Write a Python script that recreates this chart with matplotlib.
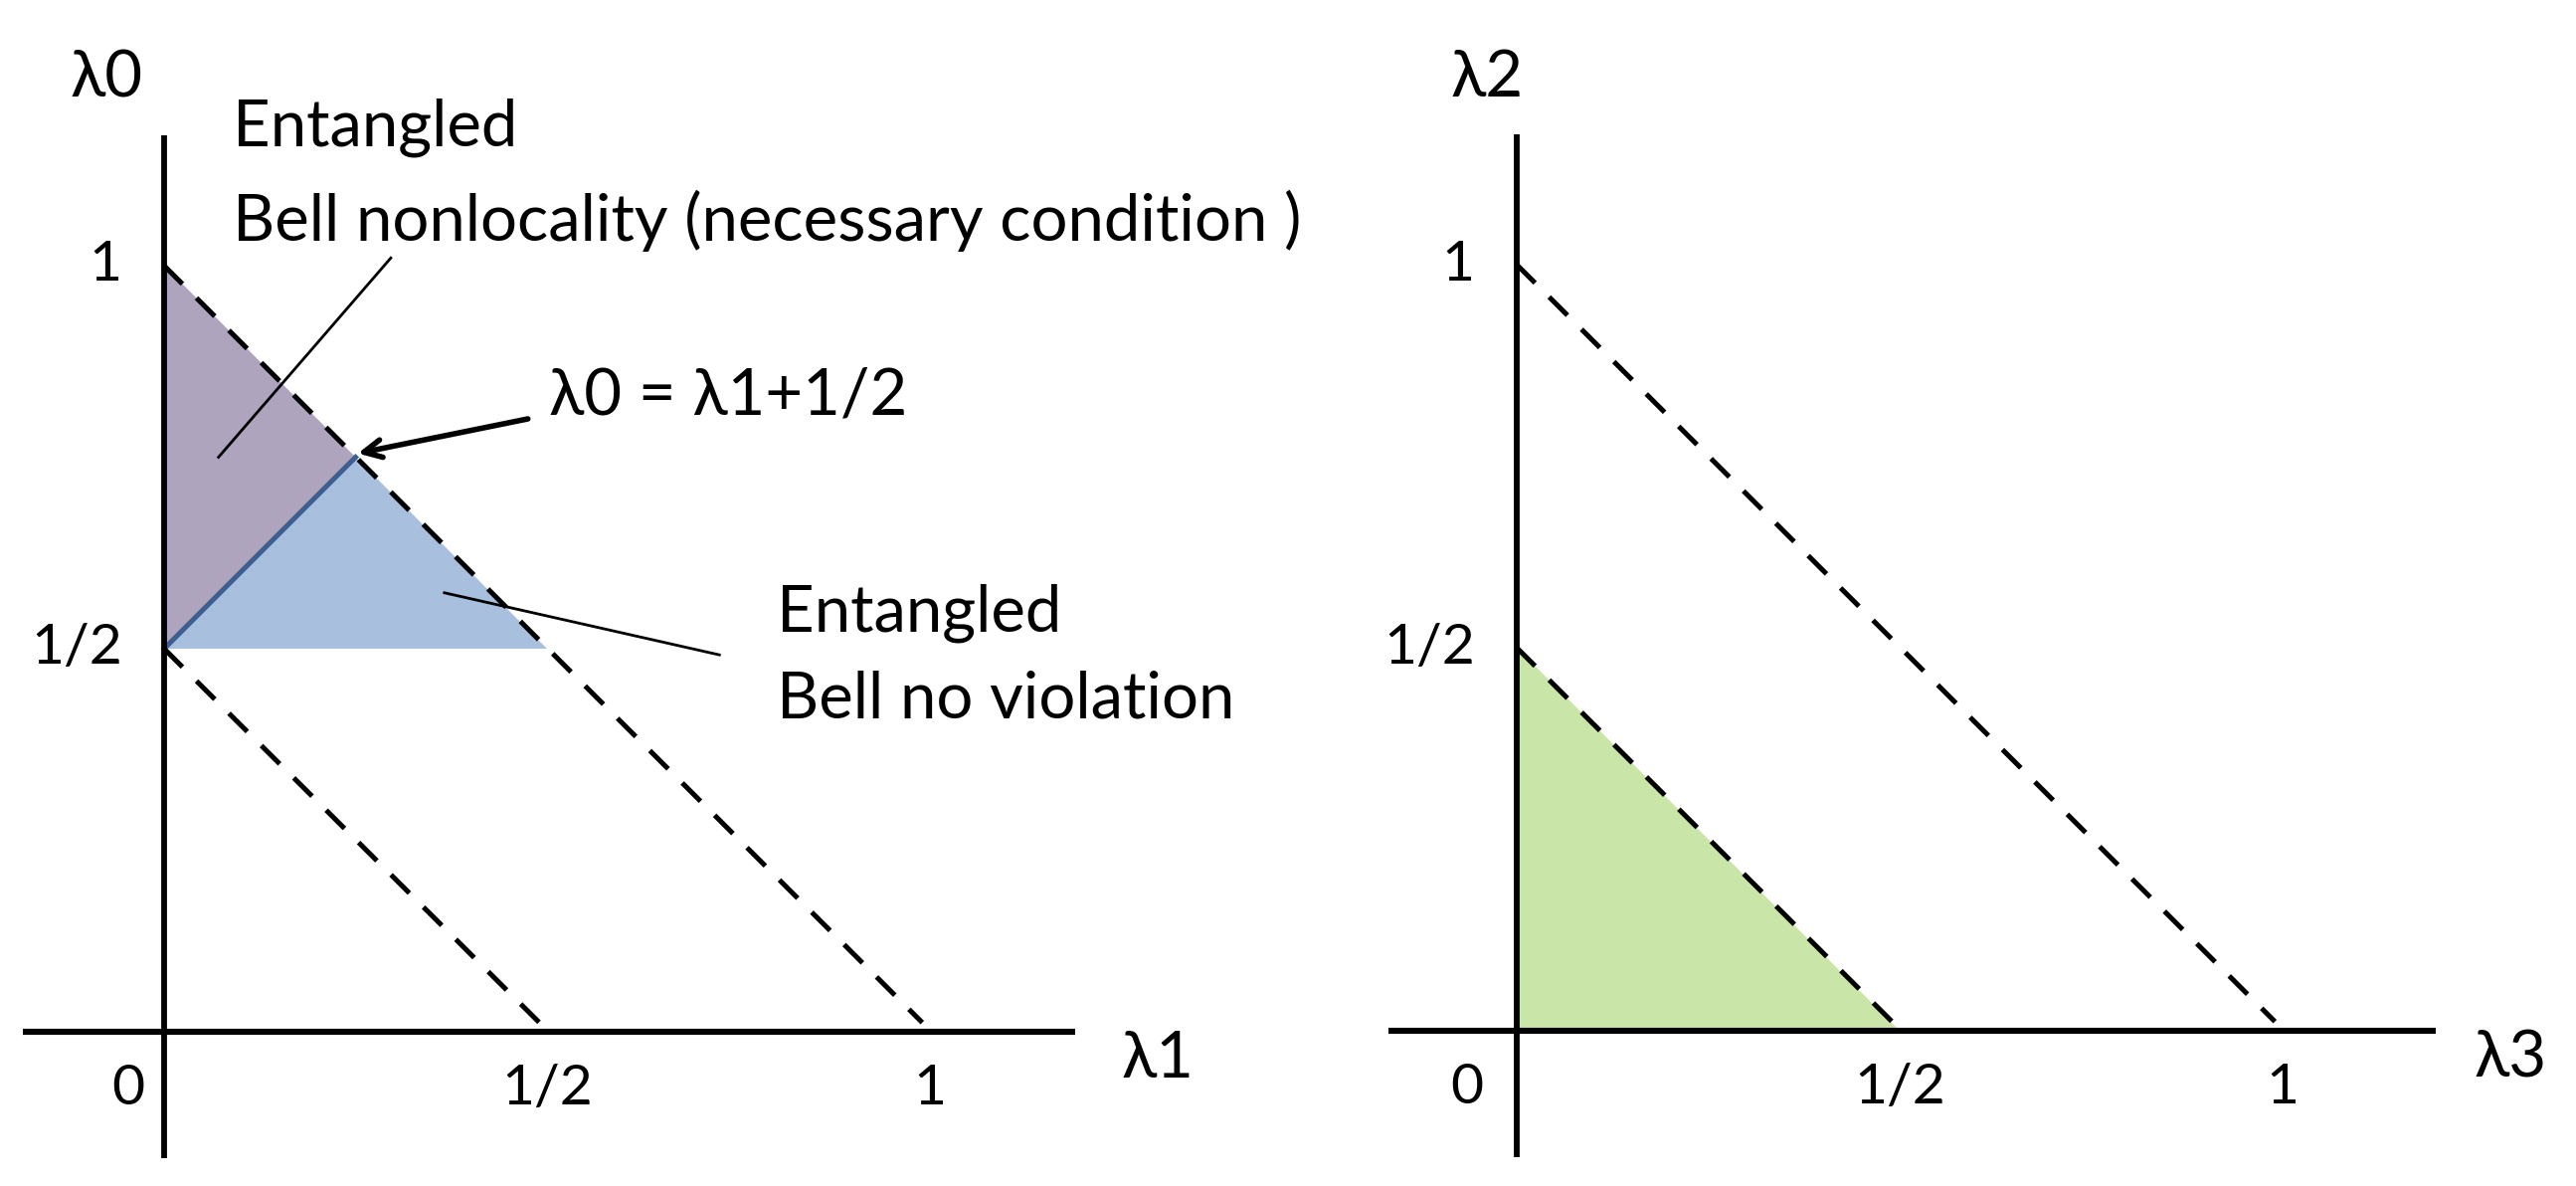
import matplotlib as mpl
mpl.use("Agg")
import matplotlib.pyplot as plt
from matplotlib.patches import Polygon

plt.rcParams['font.family'] = ['Lato', 'DejaVu Sans']

# --- data ---
tick_vals = [0.5, 1.0]
tick_text = ["1/2", "1"]

# dashed boundary lines (x0, y0) -> (x1, y1)
dash_lines = [((0.0, 1.0), (1.0, 0.0)), ((0.0, 0.5), (0.5, 0.0))]

# left panel regions
purple_tri = [(0.0, 1.0), (0.0, 0.5), (0.25, 0.75)]
blue_tri = [(0.0, 0.5), (0.25, 0.75), (0.5, 0.5)]
bound_line_x = [0.0, 0.25]
bound_line_y = [0.5, 0.75]

# right panel region
green_tri = [(0.0, 0.0), (0.0, 0.5), (0.5, 0.0)]

UNIT = 770.0  # pixels per unit
W, H = 2590, 1192
fig = plt.figure(figsize=(W / 100, H / 100), dpi=100)

FS_TICK = 41
FS_LAB = 47


def make_axes(left_px, right_px, ox, oy):
    ax = fig.add_axes([left_px / W, 0, (right_px - left_px) / W, 1])
    ax.set_xlim((left_px - ox) / UNIT, (right_px - ox) / UNIT)
    ax.set_ylim((oy - H) / UNIT, oy / UNIT)
    ax.axis('off')
    return ax


def draw_frame(ax, xlab, ylab, x_ext, y_ext, zero_x, ylab_x):
    # axis lines
    ax.plot(x_ext, [0, 0], color='black', lw=4.4, solid_capstyle='butt', zorder=5)
    ax.plot([0, 0], y_ext, color='black', lw=4.2, solid_capstyle='butt', zorder=5)
    for (x0, y0), (x1, y1) in dash_lines:
        ax.plot([x0, x1 - 0.01], [y0, y1 + 0.012], color='black', lw=3.6,
                dashes=(5.2, 4.0), zorder=4)
    for v, t in zip(tick_vals, tick_text):
        ax.text(v, -0.075, t, ha='center', va='center', fontsize=FS_TICK)
        ax.text(-0.055, v, t, ha='right', va='center', fontsize=FS_TICK)
    ax.text(zero_x, -0.075, "0", ha='center', va='center', fontsize=FS_TICK)
    ax.text(1.25, -0.036, xlab, ha='left', va='center', fontsize=FS_LAB)
    ax.text(ylab_x, 1.244, ylab, ha='center', va='center', fontsize=FS_LAB)


# ---------------- left panel ----------------
axl = make_axes(0, 1295, 165, 1037)
axl.add_patch(Polygon(purple_tri, closed=True, facecolor='#aea4be', edgecolor='none', zorder=1))
axl.add_patch(Polygon(blue_tri, closed=True, facecolor='#a8c0de', edgecolor='none', zorder=1))
axl.plot(bound_line_x, bound_line_y, color='#3e5f90', lw=3.6, zorder=3)
draw_frame(axl, "λ1", "λ0", [-0.185, 1.19], [-0.165, 1.17], -0.047, -0.075)

axl.text(0.09, 1.18, "Entangled", ha='left', va='center', fontsize=FS_LAB)
axl.text(0.09, 1.058, "Bell nonlocality (necessary condition )", ha='left', va='center', fontsize=FS_LAB)
axl.plot([0.071, 0.296], [0.75, 1.01], color='black', lw=2.0, zorder=6)

axl.text(0.80, 0.547, "Entangled", ha='left', va='center', fontsize=FS_LAB)
axl.text(0.80, 0.434, "Bell no violation", ha='left', va='center', fontsize=FS_LAB)
axl.plot([0.366, 0.725], [0.573, 0.492], color='black', lw=2.0, zorder=6)

axl.annotate("", xy=(0.253, 0.755), xytext=(0.475, 0.80),
             arrowprops=dict(arrowstyle='->', lw=4.0, color='black',
                             mutation_scale=32, shrinkA=0, shrinkB=0), zorder=7)
axl.text(0.503, 0.83, "λ0 = λ1+1/2", ha='left', va='center', fontsize=FS_LAB)

# ---------------- right panel ----------------
axr = make_axes(1295, 2590, 1525, 1036)
axr.add_patch(Polygon(green_tri, closed=True, facecolor='#c9e5a8', edgecolor='none', zorder=1))
draw_frame(axr, "λ3", "λ2", [-0.168, 1.2], [-0.165, 1.17], -0.065, -0.039)

fig.savefig("out.png", dpi=100)
